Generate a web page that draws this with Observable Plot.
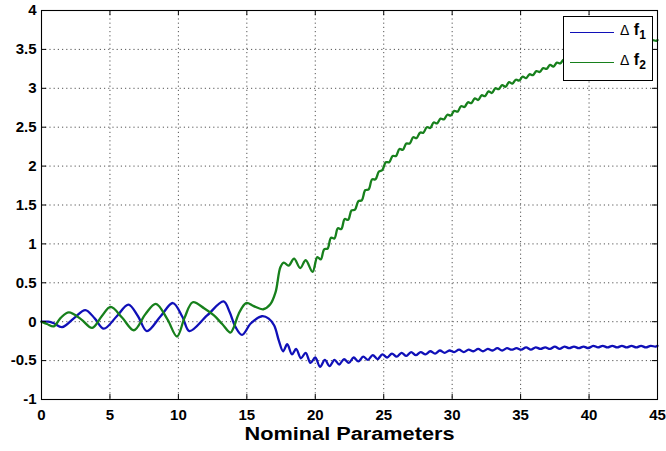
<!DOCTYPE html>
<html>
<head>
<meta charset="utf-8">
<script src="https://cdn.jsdelivr.net/npm/d3@7"></script>
<script src="https://cdn.jsdelivr.net/npm/@observablehq/plot@0.6"></script>
<style>
  body { margin: 0; background: #fff; }
  #chart { position: relative; width: 666px; height: 451px; font-family: "Liberation Sans", Arial, sans-serif; }
  .legend { position: absolute; left: 563px; top: 16px; width: 90px; height: 65px; box-sizing: border-box;
            border: 1px solid #000; background: #fff; }
  .legend .swatch { position: absolute; left: 6px; width: 44px; height: 0; border-top: 1.5px solid; }
  .legend .lbl { position: absolute; left: 56px; font-size: 16px; line-height: 16px; color: #000; white-space: nowrap; }
  .legend .lbl .d { font-weight: normal; font-size: 14px; }
  .legend .lbl b { font-weight: bold; }
  .legend .lbl sub { font-size: 12px; font-weight: bold; position: relative; top: 4px; vertical-align: baseline; }
</style>
</head>
<body>
<div id="chart"></div>
<script>
// Axis ticks and labels
const xTicks = [0, 5, 10, 15, 20, 25, 30, 35, 40, 45];
const yTicks = [-1, -0.5, 0, 0.5, 1, 1.5, 2, 2.5, 3, 3.5, 4];
const xLabel = "Nominal Parameters";
const seriesNames = ["f1", "f2"];

// Δf1 as [parameter, value]
const deltaF1 = [
  [0,0.00],[0.5,0.00],[0.9,-0.02],[1.5,-0.07],[2.4,0.05],[3.2,0.15],[3.9,0.04],[4.55,-0.09],
  [5.5,0.07],[6.35,0.22],[7.05,0.07],[7.7,-0.12],[8.7,0.07],[9.6,0.24],[10.3,0.06],[10.8,-0.12],
  [12.1,0.08],[13.3,0.26],[13.75,0.12],[14.15,-0.06],[14.65,-0.17],[15.3,-0.02],[16.1,0.07],[16.6,0.04],
  [17.0,-0.05],[17.35,-0.25],[17.65,-0.38],[17.95,-0.29],[18.3,-0.42],[18.6,-0.35],[18.95,-0.47],[19.3,-0.40],
  [19.65,-0.53],[20.0,-0.46],[20.35,-0.58],[20.7,-0.49],[21.05,-0.57],[21.4,-0.49],[21.75,-0.55],[22.1,-0.48],
  [22.45,-0.53],[22.8,-0.46],[23.15,-0.51],[23.5,-0.45],[23.85,-0.49],[24.2,-0.43],[24.55,-0.48],[24.9,-0.42],
  [25.25,-0.46],[25.6,-0.41],[25.95,-0.45],[26.3,-0.40],[26.65,-0.44],[27.0,-0.39],[27.35,-0.43],[27.7,-0.39],
  [28.05,-0.42],[28.4,-0.38],[28.75,-0.41],[29.1,-0.37],[29.45,-0.40],[29.8,-0.37],[30.15,-0.39],[30.5,-0.36],
  [30.85,-0.39],[31.2,-0.36],[31.55,-0.38],[31.9,-0.35],[32.25,-0.38],[32.6,-0.35],[32.95,-0.37],[33.3,-0.34],
  [33.65,-0.37],[34.0,-0.34],[34.35,-0.36],[34.7,-0.34],[35.05,-0.36],[35.4,-0.33],[35.75,-0.36],[36.1,-0.33],
  [36.45,-0.35],[36.8,-0.33],[37.15,-0.35],[37.5,-0.32],[37.85,-0.35],[38.2,-0.32],[38.55,-0.34],[38.9,-0.32],
  [39.25,-0.34],[39.6,-0.32],[39.95,-0.34],[40.3,-0.31],[40.65,-0.33],[41.0,-0.31],[41.35,-0.33],[41.7,-0.31],
  [42.05,-0.33],[42.4,-0.31],[42.75,-0.33],[43.1,-0.31],[43.45,-0.33],[43.8,-0.31],[44.15,-0.33],[44.5,-0.31],
  [44.85,-0.32],[45,-0.31]
];

// Δf2 as [parameter, value]
const deltaF2 = [
  [0,0.00],[0.4,-0.03],[0.9,-0.06],[1.4,0.05],[2.0,0.12],[2.9,0.03],[3.7,-0.08],[4.4,0.07],
  [5.05,0.19],[5.9,0.05],[6.75,-0.11],[7.6,0.10],[8.35,0.23],[9.2,0.03],[9.9,-0.19],[10.45,0.05],
  [11.05,0.25],[11.9,0.17],[12.6,0.08],[13.2,-0.03],[13.8,-0.14],[14.05,-0.07],[14.4,0.10],[14.95,0.24],
  [15.5,0.20],[16.2,0.16],[16.7,0.22],[17.1,0.38],[17.45,0.70],[17.7,0.76],[18.05,0.72],[18.45,0.81],
  [18.9,0.69],[19.3,0.79],[19.8,0.64],[20.15,0.83],[20.4,0.80],[20.65,0.93],[20.9,0.94],[21.15,1.08],
  [21.4,1.07],[21.65,1.20],[21.9,1.19],[22.15,1.32],[22.4,1.31],[22.65,1.43],[22.9,1.44],[23.15,1.55],
  [23.4,1.56],[23.65,1.69],[23.9,1.70],[24.15,1.83],[24.4,1.83],[24.65,1.93],[24.9,1.95],[25.15,2.05],
  [25.4,2.05],[25.65,2.13],[25.9,2.13],[26.15,2.22],[26.4,2.21],[26.65,2.29],[26.9,2.29],[27.15,2.37],
  [27.4,2.36],[27.65,2.43],[27.9,2.43],[28.15,2.50],[28.4,2.49],[28.65,2.56],[28.9,2.55],[29.15,2.61],
  [29.4,2.60],[29.65,2.66],[29.9,2.65],[30.15,2.71],[30.4,2.70],[30.65,2.77],[30.9,2.76],[31.15,2.82],
  [31.4,2.81],[31.65,2.87],[31.9,2.85],[32.15,2.91],[32.4,2.90],[32.65,2.96],[32.9,2.94],[33.15,3.00],
  [33.4,2.99],[33.65,3.04],[33.9,3.02],[34.15,3.08],[34.4,3.06],[34.65,3.11],[34.9,3.10],[35.15,3.15],
  [35.4,3.13],[35.65,3.18],[35.9,3.17],[36.15,3.22],[36.4,3.21],[36.65,3.26],[36.9,3.25],[37.15,3.30],
  [37.4,3.28],[37.65,3.33],[37.9,3.32],[38.15,3.37],[38.4,3.36],[38.65,3.40],[38.9,3.39],[39.15,3.43],
  [39.4,3.42],[39.65,3.46],[39.9,3.45],[40.15,3.48],[40.4,3.47],[40.65,3.51],[40.9,3.50],[41.15,3.53],
  [41.4,3.52],[41.65,3.55],[41.9,3.54],[42.15,3.57],[42.4,3.55],[42.65,3.58],[42.9,3.57],[43.15,3.59],
  [43.4,3.58],[43.65,3.60],[43.9,3.59],[44.15,3.61],[44.4,3.60],[44.65,3.62],[44.9,3.61],[45,3.62]
];

const colors = ["#1010b8", "#17801c"];
const rows = (pts) => pts.map(([x, y]) => ({x, y}));

const gridStyle = {stroke: "#555", strokeWidth: 1, strokeDasharray: "1.2,3"};

const svg = Plot.plot({
  width: 666,
  height: 451,
  marginLeft: 41,
  marginRight: 9,
  marginTop: 10,
  marginBottom: 52,
  style: {fontFamily: "Liberation Sans, Arial, sans-serif", fontSize: "15px", fontWeight: "bold", color: "#000", background: "#fff"},
  x: {domain: [0, 45], ticks: xTicks, tickSize: 0, tickPadding: 10, tickFormat: d => String(d), label: null},
  y: {domain: [-1, 4], ticks: yTicks, tickSize: 0, tickPadding: 5, tickFormat: d => String(d), label: null},
  marks: [
    // dotted grid
    Plot.ruleX(xTicks.slice(1, -1), gridStyle),
    Plot.ruleY(yTicks.slice(1, -1), gridStyle),
    // the two curves
    Plot.line(rows(deltaF1), {x: "x", y: "y", stroke: colors[0], strokeWidth: 2.3, curve: "catmull-rom"}),
    Plot.line(rows(deltaF2), {x: "x", y: "y", stroke: colors[1], strokeWidth: 2.3, curve: "catmull-rom"}),
    // inward ticks on all four sides
    Plot.ruleX(xTicks, {stroke: "#000", insetTop: 384}),
    Plot.ruleX(xTicks, {stroke: "#000", insetBottom: 384}),
    Plot.ruleY(yTicks, {stroke: "#000", insetRight: 611}),
    Plot.ruleY(yTicks, {stroke: "#000", insetLeft: 611}),
    Plot.frame({stroke: "#000", strokeWidth: 1.1}),
    // axis title
    Plot.text([xLabel], {text: d => d, frameAnchor: "bottom", dy: 40, fontSize: 18, fontWeight: "bold", fill: "#000"})
  ]
});

// widen the axis title the way the bold label is set
d3.select(svg).selectAll("text")
  .filter(function () { return this.textContent === xLabel; })
  .attr("textLength", 210)
  .attr("lengthAdjust", "spacingAndGlyphs");

const chart = document.getElementById("chart");
chart.appendChild(svg);

// legend box in the upper right corner of the axes
const legend = document.createElement("div");
legend.className = "legend";
seriesNames.forEach((name, i) => {
  const top = 15 + i * 30;
  const sw = document.createElement("div");
  sw.className = "swatch";
  sw.style.top = top + "px";
  sw.style.borderTopColor = colors[i];
  legend.appendChild(sw);
  const lbl = document.createElement("div");
  lbl.className = "lbl";
  lbl.style.top = (top - 10) + "px";
  lbl.innerHTML = `<span class="d">\u0394</span> <b>${name[0]}<sub>${name.slice(1)}</sub></b>`;
  legend.appendChild(lbl);
});
chart.appendChild(legend);
</script>
</body>
</html>
